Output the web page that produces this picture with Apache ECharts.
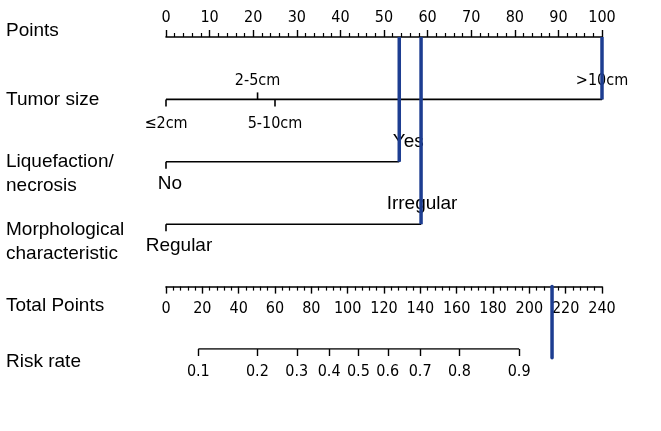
<!DOCTYPE html>
<html>
<head>
<meta charset="utf-8">
<script src="https://cdn.jsdelivr.net/npm/echarts@6/dist/echarts.min.js"></script>
<style>html,body{margin:0;padding:0;background:#fff}#c{width:661px;height:431px}</style>
</head>
<body>
<div id="c"></div>
<script>
// ---- data ----
const rowTitles = ['Points', 'Tumor size', 'Liquefaction/\nnecrosis', 'Morphological\ncharacteristic', 'Total Points', 'Risk rate'];
const tumorLevels = ['\u22642cm', '2-5cm', '5-10cm', '>10cm'];
const tumorPoints = [0, 21, 25, 100];
const liqLevels = ['No', 'Yes'];
const liqPoints = [0, 53.5];
const morphLevels = ['Regular', 'Irregular'];
const morphPoints = [0, 58.5];
const riskLabels = ['0.1', '0.2', '0.3', '0.4', '0.5', '0.6', '0.7', '0.8', '0.9'];
const riskTotals = [17.8, 50.3, 72.0, 89.8, 105.9, 122.1, 139.9, 161.5, 194.4];
const caseTumor = '>10cm';
const caseLiq = 'Yes';
const caseMorph = 'Irregular';
const caseTotal = 212.5;

// ---- layout / style ----
const NARROW = '"Liberation Sans Narrow","DejaVu Sans Condensed","Arial Narrow",sans-serif';
const SANS = '"Liberation Sans",Arial,sans-serif';
const BLUE = '#1d3d91';
const titleY = [31, 100, 174, 242, 306, 362];
const tumorSide = ['bottom', 'top', 'bottom', 'top'];
const tumorDist = [9, 4, 9, 4];
const tumorDx = [0, 0, 0, 0];
const binSide = ['bottom', 'top'];
const binDist = [5, 4];
const liqDx = [4, 9];
const morphDx = [13, 1];
const L = 166, R = 59;

const chart = echarts.init(document.getElementById('c'), null, {renderer: 'canvas'});

function catRow(row, levels, pts, sides, dists, dxs, font, size) {
  const line = {
    type: 'line', xAxisIndex: 0, yAxisIndex: 0, symbol: 'none', silent: true, z: 2,
    lineStyle: {color: '#000', width: 1.6},
    data: [[Math.min(...pts), row], [Math.max(...pts), row]]
  };
  const ticks = {
    type: 'scatter', xAxisIndex: 0, yAxisIndex: 0, silent: true, z: 2,
    symbol: 'rect', symbolSize: [1.6, 7],
    itemStyle: {color: '#000', opacity: 1},
    data: pts.map((p, i) => ({
      value: [p, row],
      symbolOffset: [0, sides[i] === 'top' ? -3.5 : 3.5],
      label: {show: true, position: sides[i], distance: dists[i], offset: [dxs[i], 0], formatter: levels[i],
              fontFamily: font, fontSize: size, color: '#000', opacity: 1}
    }))
  };
  return [line, ticks];
}

function caseLine(row, pts, levels, chosen) {
  const p = pts[levels.indexOf(chosen)];
  return {
    type: 'line', xAxisIndex: 0, yAxisIndex: 0, symbol: 'none', silent: true, z: 10,
    lineStyle: {color: BLUE, width: 3.5},
    data: [[p, 0], [p, row]]
  };
}

const axisBase = {
  type: 'value',
  splitLine: {show: false},
  axisLine: {show: true, onZero: false, lineStyle: {color: '#000', width: 1.6}},
  axisTick: {show: true, length: 7, lineStyle: {color: '#000', width: 1.4}},
  minorTick: {show: true, splitNumber: 5, length: 4, lineStyle: {color: '#000', width: 1.2}},
  axisLabel: {margin: 11, fontFamily: NARROW, fontSize: 16, color: '#000'}
};

const option = {
  animation: false,
  backgroundColor: '#fff',
  grid: [
    {left: L, right: R, top: 37, height: 312},
    {left: L, right: R, top: 37, height: 249.6},
    {left: L, right: R, top: 37, height: 312}
  ],
  xAxis: [
    Object.assign({}, axisBase, {gridIndex: 0, position: 'top', min: 0, max: 100, interval: 10}),
    Object.assign({}, axisBase, {gridIndex: 1, position: 'bottom', min: 0, max: 240, interval: 20,
      axisLabel: {margin: 14, fontFamily: NARROW, fontSize: 16, color: '#000'}}),
    {
      type: 'value', gridIndex: 2, position: 'bottom', min: 0, max: 240,
      splitLine: {show: false}, axisLine: {show: false}, minorTick: {show: false},
      axisTick: {show: true, length: 7, customValues: riskTotals, lineStyle: {color: '#000', width: 1.4}},
      axisLabel: {
        show: true, margin: 15, customValues: riskTotals, fontFamily: NARROW, fontSize: 16, color: '#000',
        formatter: v => {
          let bi = 0;
          riskTotals.forEach((t, i) => { if (Math.abs(t - v) < Math.abs(riskTotals[bi] - v)) bi = i; });
          return riskLabels[bi];
        }
      }
    },
    {type: 'value', gridIndex: 0, min: 0, max: 240, show: false}
  ],
  yAxis: [
    {type: 'value', gridIndex: 0, min: 0, max: 5, inverse: true, show: false},
    {type: 'value', gridIndex: 1, min: 0, max: 1, show: false},
    {type: 'value', gridIndex: 2, min: 0, max: 1, show: false}
  ],
  graphic: rowTitles.map((t, i) => ({
    type: 'text', x: 6, y: titleY[i], silent: true,
    style: {text: t, fontFamily: SANS, fontSize: 19, lineHeight: 24, fill: '#000', verticalAlign: 'middle', align: 'left'}
  })),
  series: [
    ...catRow(1, tumorLevels, tumorPoints, tumorSide, tumorDist, tumorDx, NARROW, 16),
    ...catRow(2, liqLevels, liqPoints, binSide, binDist, liqDx, SANS, 19),
    ...catRow(3, morphLevels, morphPoints, binSide, binDist, morphDx, SANS, 19),
    {
      type: 'line', xAxisIndex: 2, yAxisIndex: 2, symbol: 'none', silent: true,
      lineStyle: {color: '#000', width: 1.6},
      data: [[riskTotals[0], 0], [riskTotals[riskTotals.length - 1], 0]]
    },
    caseLine(1, tumorPoints, tumorLevels, caseTumor),
    caseLine(2, liqPoints, liqLevels, caseLiq),
    caseLine(3, morphPoints, morphLevels, caseMorph),
    {
      type: 'line', xAxisIndex: 3, yAxisIndex: 0, symbol: 'none', silent: true, z: 10, clip: false,
      lineStyle: {color: BLUE, width: 3.5, cap: 'round'},
      data: [[caseTotal, 4], [caseTotal, 5.14]]
    }
  ]
};
chart.setOption(option);
</script>
</body>
</html>
